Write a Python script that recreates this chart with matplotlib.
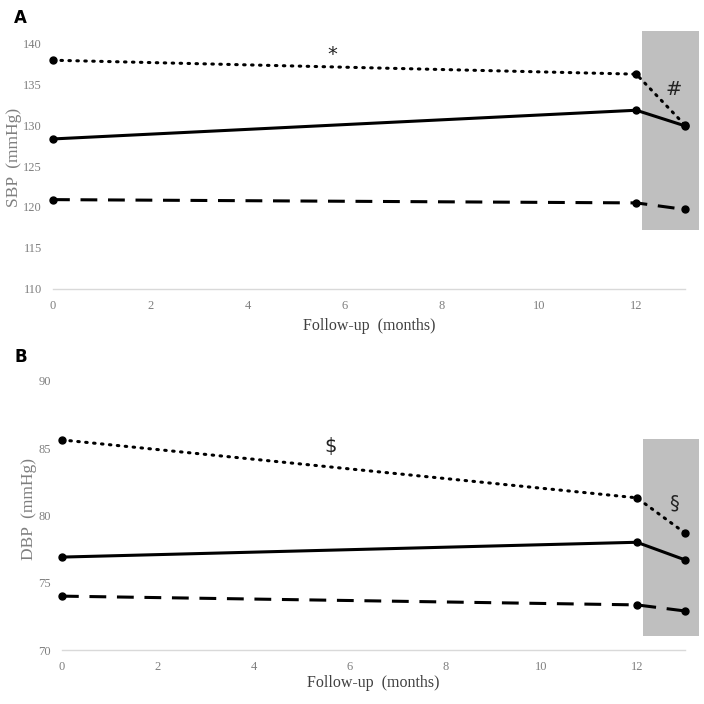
import matplotlib.pyplot as plt
from matplotlib.patches import Rectangle

# follow-up time points (months)
months = [0, 12, 13]

# panel A - systolic BP (mmHg)
sbp_dotted = [137.9, 136.2, 130.0]
sbp_solid = [128.3, 131.8, 129.9]
sbp_dashed = [120.9, 120.5, 119.7]

# panel B - diastolic BP (mmHg)
dbp_dotted = [85.6, 81.3, 78.7]
dbp_solid = [76.9, 78.0, 76.7]
dbp_dashed = [74.0, 73.35, 72.9]

xticks = [0, 2, 4, 6, 8, 10, 12]
sbp_ticks = [110, 115, 120, 125, 130, 135, 140]
dbp_ticks = [70, 75, 80, 85, 90]

serif = 'Liberation Serif'
tick_col = '#7f7f7f'


def panel(ax, dotted, solid, dashed, yticks, ylim, box, ylabel, notes, xl_y):
    # shaded region after 12 months
    ax.add_patch(Rectangle((box[0], box[1]), box[2] - box[0], box[3] - box[1],
                           facecolor='#bfbfbf', edgecolor='none', zorder=0))
    ax.plot(months, dotted, color='black', lw=2.2, ls=(0, (0.5, 2.1)),
            dash_capstyle='round', marker='o', ms=5, clip_on=False)
    ax.plot(months, solid, color='black', lw=2.2, marker='o', ms=5,
            clip_on=False)
    ax.plot(months, dashed, color='black', lw=2.2, ls=(0, (5.5, 3.5)),
            marker='o', ms=5, clip_on=False)
    ax.plot([0, 13], [ylim[0], ylim[0]], color='#d9d9d9', lw=1, zorder=1,
            clip_on=False)
    for s in ax.spines.values():
        s.set_visible(False)
    ax.set_xlim(0, 13.35)
    ax.set_ylim(*ylim)
    ax.set_xticks(xticks)
    ax.set_yticks(yticks)
    ax.tick_params(length=0, labelsize=9, labelcolor=tick_col, pad=8)
    for lab in ax.get_xticklabels() + ax.get_yticklabels():
        lab.set_family(serif)
    ax.set_ylabel(ylabel, family=serif, fontsize=12.5, color=tick_col,
                  labelpad=1)
    ax.set_xlabel('Follow-up  (months)', family=serif, fontsize=11.5,
                  color='#404040')
    ax.xaxis.set_label_coords(6.5 / 13.35, xl_y)
    for x, y, t in notes:
        ax.text(x, y, t, fontsize=14, ha='center', va='center', color='#222222')


fig = plt.figure(figsize=(7.04, 7.04), dpi=100)

axA = fig.add_axes([0.0753, 0.5895, 0.9217, 0.3727])
panel(axA, sbp_dotted, sbp_solid, sbp_dashed, sbp_ticks, (110, 142),
      (12.12, 117.2, 13.3, 141.5), 'SBP  (mmHg)',
      [(5.74, 138.6, '*'), (12.78, 134.3, '#')], -0.11)

axB = fig.add_axes([0.088, 0.0767, 0.9085, 0.4017])
panel(axB, dbp_dotted, dbp_solid, dbp_dashed, dbp_ticks, (70, 91),
      (12.12, 71.05, 13.3, 85.7), 'DBP  (mmHg)',
      [(5.6, 85.1, '$'), (12.78, 80.9, '§')], -0.088)

fig.text(0.02, 0.975, 'A', fontsize=12, fontweight='bold', va='center')
fig.text(0.02, 0.493, 'B', fontsize=12, fontweight='bold', va='center')

fig.savefig('out.png', dpi=100)
